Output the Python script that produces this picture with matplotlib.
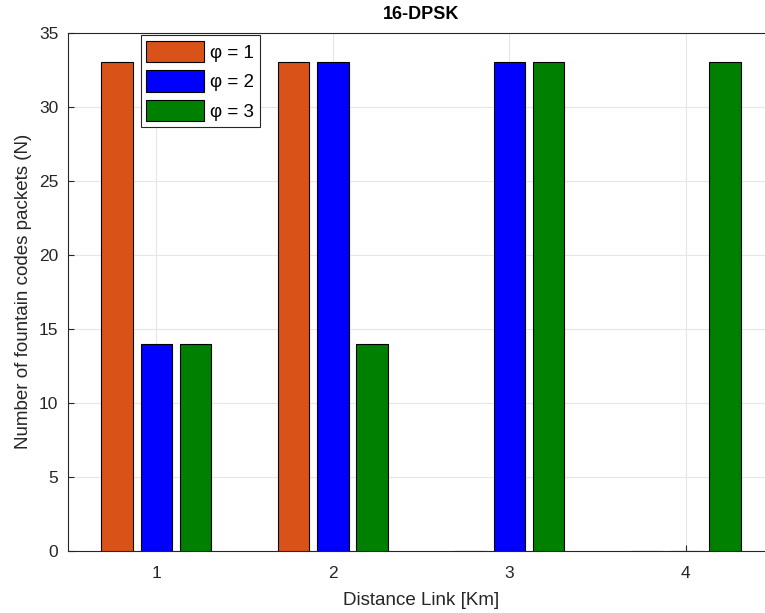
import matplotlib.pyplot as plt
import numpy as np

plt.rcParams['font.family'] = ['Liberation Sans', 'DejaVu Sans']

distance = [1, 2, 3, 4]
phi_labels = ['φ = 1', 'φ = 2', 'φ = 3']
packets_phi1 = [33, 33, 0, 0]
packets_phi2 = [14, 33, 33, 0]
packets_phi3 = [14, 14, 33, 33]
colors = ['#D95319', '#0000FF', '#008000']

fig = plt.figure(figsize=(7.65, 6.13), dpi=100)
ax = fig.add_axes([0.0889, 0.1011, 0.923, 0.8458])

x = np.array(distance)
offsets = [-0.2222, 0.0, 0.2222]
width = 0.178
series = [packets_phi1, packets_phi2, packets_phi3]
for vals, off, c, lab in zip(series, offsets, colors, phi_labels):
    ax.bar(x + off, vals, width, color=c, edgecolor='black', linewidth=0.8,
           label=lab, zorder=3)

ax.set_xlim(0.5, 4.5)
ax.set_ylim(0, 35)
ax.set_xticks(distance)
ax.set_yticks(range(0, 36, 5))
ax.grid(True, color='#e6e6e6', linewidth=0.8, zorder=0)
ax.set_axisbelow(True)
ax.tick_params(direction='in', length=4, colors='#262626', labelsize=12.5)
ax.tick_params(axis='x', pad=11)
ax.tick_params(axis='y', pad=7)
for s in ax.spines.values():
    s.set_color('#262626')
    s.set_linewidth(0.8)

ax.set_title('16-DPSK', fontsize=13, fontweight='bold', pad=10)
ax.set_xlabel('Distance Link [Km]', fontsize=13.5, color='#262626', labelpad=8)
ax.set_ylabel('Number of fountain codes packets (N)', fontsize=13.5,
              color='#262626', labelpad=5)

leg = ax.legend(loc='upper left', bbox_to_anchor=(0.103, 0.995), fontsize=13.5,
                fancybox=False, framealpha=1, edgecolor='#262626',
                handlelength=3.1, handleheight=1.4, handletextpad=0.3,
                labelspacing=0.42, borderpad=0.3, borderaxespad=0)
leg.get_frame().set_linewidth(0.8)

fig.savefig('out.png', dpi=100)
